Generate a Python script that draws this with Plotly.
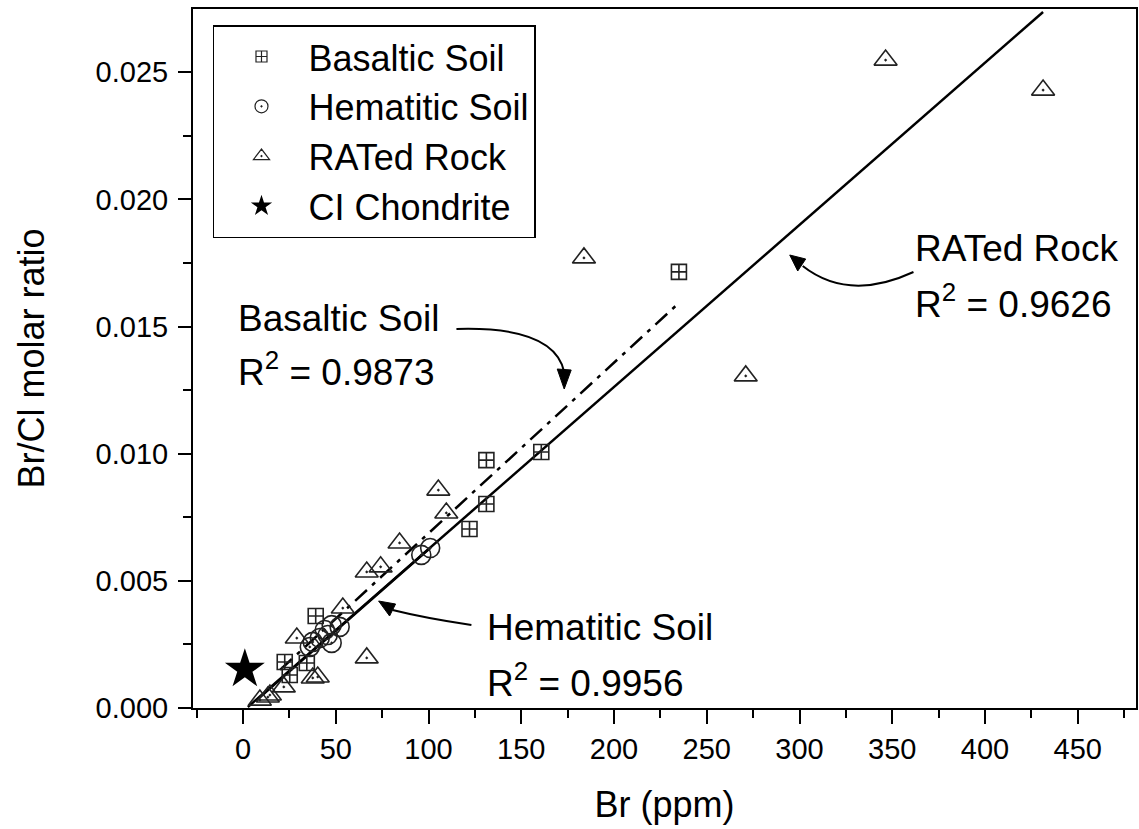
import plotly.graph_objects as go

# ---------------- data ----------------
basaltic_br = [235.0, 160.8, 131.2, 131.2, 122.1, 39.2, 22.5, 25.2, 34.4]
basaltic_ratio = [0.01715, 0.01007, 0.00975, 0.00802, 0.00704, 0.00362, 0.00181, 0.00130, 0.00177]

hematitic_br = [96.1, 100.9, 52.1, 47.8, 44.1, 45.7, 47.8, 41.4, 37.6, 36.0]
hematitic_ratio = [0.00602, 0.00629, 0.00319, 0.00326, 0.00307, 0.00287, 0.00256, 0.00275, 0.00260, 0.00240]

rated_br = [346.4, 431.3, 183.8, 271.0, 105.3, 109.6, 84.4, 74.2, 66.7, 53.8,
            29.0, 66.7, 37.6, 40.3, 22.0, 13.4, 9.1, 14.5]
rated_ratio = [0.02548, 0.02430, 0.01770, 0.01306, 0.00857, 0.00767, 0.00649, 0.00555, 0.00535, 0.00393,
               0.00275, 0.00197, 0.00118, 0.00122, 0.00083, 0.00043, 0.00031, 0.00051]

ci_br = [1.0]
ci_ratio = [0.00152]

# fitted lines (end points)
rated_fit_br = [2.6, 431.3]
rated_fit_ratio = [0.00004, 0.02737]
basaltic_fit_br = [20.0, 235.0]
basaltic_fit_ratio = [0.00150, 0.01593]
hematitic_fit_br = [8.0, 101.0]
hematitic_fit_ratio = [0.00035, 0.00630]

x_ticks = [0, 50, 100, 150, 200, 250, 300, 350, 400, 450]
y_ticks = [0.000, 0.005, 0.010, 0.015, 0.020, 0.025]

FONT = "Liberation Sans, Arial, sans-serif"

# plot-area geometry helpers (for decorative arrows / text placement only)
XSCALE = 1.859
YSCALE = 25428.0
def fx(px):
    return (px - 243.1) / XSCALE
def fy(py):
    return (708 - py) / YSCALE

fig = go.Figure()

# fit lines
fig.add_trace(go.Scatter(x=hematitic_fit_br, y=hematitic_fit_ratio, mode="lines",
                         line=dict(color="black", width=2.5), showlegend=False, hoverinfo="skip"))
fig.add_trace(go.Scatter(x=rated_fit_br, y=rated_fit_ratio, mode="lines",
                         line=dict(color="black", width=2.5), showlegend=False, hoverinfo="skip"))
fig.add_trace(go.Scatter(x=basaltic_fit_br, y=basaltic_fit_ratio, mode="lines",
                         line=dict(color="black", width=2.5, dash="16px,7px,4px,7px"),
                         showlegend=False, hoverinfo="skip"))

# data points
mline = dict(color="#222", width=1.6)
fig.add_trace(go.Scatter(x=rated_br, y=rated_ratio, mode="markers", name="RATed Rock",
                         marker=dict(symbol="triangle-up-open-dot", size=20, color="#222", line=mline),
                         showlegend=False))
fig.add_trace(go.Scatter(x=basaltic_br, y=basaltic_ratio, mode="markers", name="Basaltic Soil",
                         marker=dict(symbol="square-cross-open", size=15, color="#222", line=mline),
                         showlegend=False))
fig.add_trace(go.Scatter(x=hematitic_br, y=hematitic_ratio, mode="markers", name="Hematitic Soil",
                         marker=dict(symbol="circle-open-dot", size=19, color="#222", line=mline),
                         showlegend=False))
fig.add_trace(go.Scatter(x=ci_br, y=ci_ratio, mode="markers", name="CI Chondrite",
                         marker=dict(symbol="star", size=30, color="black", line=dict(width=0)),
                         showlegend=False))

# legend entries
leg_line = dict(color="#222", width=1.2)
fig.add_trace(go.Scatter(x=[None], y=[None], mode="markers", name="Basaltic Soil",
                         marker=dict(symbol="square-cross-open", size=11, color="#222", line=leg_line)))
fig.add_trace(go.Scatter(x=[None], y=[None], mode="markers", name="Hematitic Soil",
                         marker=dict(symbol="circle-open-dot", size=13, color="#222", line=leg_line)))
fig.add_trace(go.Scatter(x=[None], y=[None], mode="markers", name="RATed Rock",
                         marker=dict(symbol="triangle-up-open-dot", size=14, color="#222", line=leg_line)))
fig.add_trace(go.Scatter(x=[None], y=[None], mode="markers", name="CI Chondrite",
                         marker=dict(symbol="star", size=30, color="black", line=dict(width=0))))

# ---------------- annotations (text) ----------------
ann_font = dict(family=FONT, size=37, color="black")
texts = [
    ("Basaltic Soil", 236, 318),
    ("R<sup>2</sup> = 0.9873", 236, 369),
    ("RATed Rock", 915, 248),
    ("R<sup>2</sup> = 0.9626", 915, 301),
    ("Hematitic Soil", 486, 627),
    ("R<sup>2</sup> = 0.9956", 486, 680),
]
for t, px, py in texts:
    fig.add_annotation(x=fx(px), y=fy(py), text=t, showarrow=False, xanchor="left",
                       yanchor="middle", font=ann_font, xref="x", yref="y")

# ---------------- curved arrows ----------------
def qpath(p0, c, p1):
    return f"M {fx(p0[0])},{fy(p0[1])} Q {fx(c[0])},{fy(c[1])} {fx(p1[0])},{fy(p1[1])}"
def tri(a, b, c):
    return f"M {fx(a[0])},{fy(a[1])} L {fx(b[0])},{fy(b[1])} L {fx(c[0])},{fy(c[1])} Z"

arrows = [
    ((457, 329), (555, 326), (565, 372), (565, 389), (558, 369), (572, 370)),
    ((915, 272), (850, 302), (804, 266), (791, 255), (807, 259), (799, 271)),
    ((472, 625), (425, 618), (393, 610), (379, 601), (396, 604), (390, 616)),
]
for p0, c, p1, tip, b1, b2 in arrows:
    fig.add_shape(type="path", path=qpath(p0, c, p1), xref="x", yref="y",
                  line=dict(color="black", width=2))
    fig.add_shape(type="path", path=tri(tip, b1, b2), xref="x", yref="y",
                  line=dict(color="black", width=1), fillcolor="black")

# ---------------- layout ----------------
fig.update_layout(
    width=1139, height=829,
    margin=dict(l=193, r=1, t=9, b=121),
    paper_bgcolor="white", plot_bgcolor="white",
    font=dict(family=FONT, color="black"),
    showlegend=True,
    legend=dict(x=0.0212, y=0.977, xanchor="left", yanchor="top",
                bordercolor="black", borderwidth=1.5, bgcolor="white",
                font=dict(family=FONT, size=36, color="black"),
                itemsizing="trace", itemwidth=84, tracegroupgap=0),
    xaxis=dict(range=[fx(193), fx(1138)], tickvals=x_ticks, ticks="outside", ticklen=14, tickwidth=2,
               tickcolor="black", showline=True, linecolor="black", linewidth=2, mirror=True,
               showgrid=False, zeroline=False, tickfont=dict(size=29, family=FONT),
               ticklabelstandoff=0,
               minor=dict(dtick=25, tick0=0, ticks="outside", ticklen=8, tickwidth=2, tickcolor="black"),
               title=dict(text="Br (ppm)", font=dict(size=36, family=FONT), standoff=28)),
    yaxis=dict(range=[0, fy(9)], tickvals=y_ticks, tickformat=".3f", ticks="outside", ticklen=13,
               tickwidth=2, tickcolor="black", showline=True, linecolor="black", linewidth=2,
               mirror=True, showgrid=False, zeroline=False, tickfont=dict(size=29, family=FONT),
               ticklabelstandoff=4,
               minor=dict(dtick=0.0025, tick0=0, ticks="outside", ticklen=8, tickwidth=2, tickcolor="black"),
               title=dict(text="Br/Cl molar ratio", font=dict(size=36, family=FONT), standoff=40)),
)

fig.write_html("out.html")
